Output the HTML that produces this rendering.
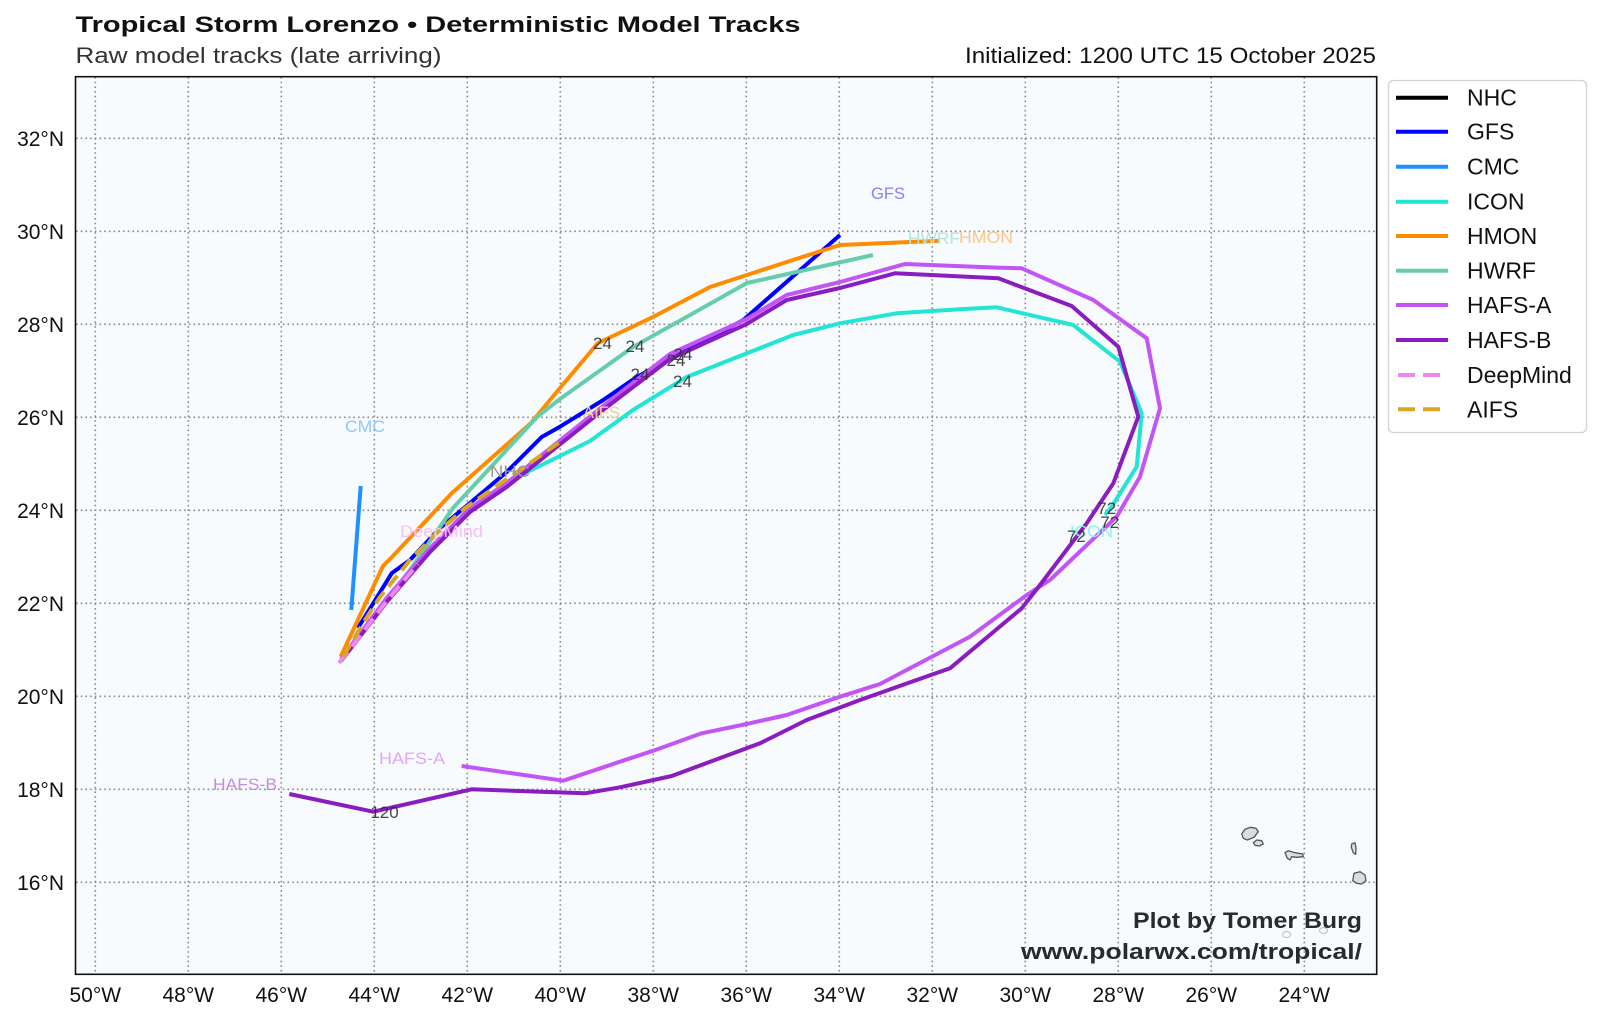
<!DOCTYPE html>
<html>
<head>
<meta charset="utf-8">
<style>
  html, body { margin: 0; padding: 0; background: #ffffff; }
  svg { display: block; }
  text { font-family: "Liberation Sans", "DejaVu Sans", sans-serif; }
</style>
</head>
<body>
<svg width="1600" height="1017" viewBox="0 0 1600 1017" xmlns="http://www.w3.org/2000/svg">
  <rect x="0" y="0" width="1600" height="1017" fill="#ffffff"/>

  <!-- Titles -->
  <text x="75.5" y="32" font-size="22" font-weight="bold" fill="#111" textLength="725" lengthAdjust="spacingAndGlyphs">Tropical Storm Lorenzo • Deterministic Model Tracks</text>
  <text x="75.5" y="63" font-size="22" fill="#333" textLength="366" lengthAdjust="spacingAndGlyphs">Raw model tracks (late arriving)</text>
  <text x="1376" y="63" font-size="22" fill="#111" text-anchor="end" textLength="411" lengthAdjust="spacingAndGlyphs">Initialized: 1200 UTC 15 October 2025</text>

  <!-- Plot background -->
  <rect x="75.5" y="76.7" width="1301.2" height="897.6" fill="#f7fbfe"/>

  <!-- Grid -->
  <g stroke="#8a8a8a" stroke-width="1.6" stroke-dasharray="1.6 3.1" fill="none">
    <line x1="95.3" y1="77" x2="95.3" y2="974"/>
    <line x1="188.3" y1="77" x2="188.3" y2="974"/>
    <line x1="281.3" y1="77" x2="281.3" y2="974"/>
    <line x1="374.3" y1="77" x2="374.3" y2="974"/>
    <line x1="467.3" y1="77" x2="467.3" y2="974"/>
    <line x1="560.3" y1="77" x2="560.3" y2="974"/>
    <line x1="653.3" y1="77" x2="653.3" y2="974"/>
    <line x1="746.3" y1="77" x2="746.3" y2="974"/>
    <line x1="839.3" y1="77" x2="839.3" y2="974"/>
    <line x1="932.3" y1="77" x2="932.3" y2="974"/>
    <line x1="1025.3" y1="77" x2="1025.3" y2="974"/>
    <line x1="1118.3" y1="77" x2="1118.3" y2="974"/>
    <line x1="1211.3" y1="77" x2="1211.3" y2="974"/>
    <line x1="1304.3" y1="77" x2="1304.3" y2="974"/>
    <line x1="76" y1="138.3" x2="1376" y2="138.3"/>
    <line x1="76" y1="231.3" x2="1376" y2="231.3"/>
    <line x1="76" y1="324.3" x2="1376" y2="324.3"/>
    <line x1="76" y1="417.3" x2="1376" y2="417.3"/>
    <line x1="76" y1="510.3" x2="1376" y2="510.3"/>
    <line x1="76" y1="603.3" x2="1376" y2="603.3"/>
    <line x1="76" y1="696.3" x2="1376" y2="696.3"/>
    <line x1="76" y1="789.3" x2="1376" y2="789.3"/>
    <line x1="76" y1="882.3" x2="1376" y2="882.3"/>
  </g>

  <!-- Islands (Cape Verde) -->
  <g fill="#dcdcdc" stroke="#555" stroke-width="1.3" stroke-linejoin="round">
    <polygon points="1241.7,834 1245,829.3 1250.7,827.3 1256,828.3 1258.3,831.7 1254,837.3 1247.3,840 1243.3,838.3"/>
    <polygon points="1253.3,842.7 1256.7,840 1261.7,840.7 1263.3,844 1259.3,846 1255,845.3"/>
    <polygon points="1285,852.7 1288.3,850.7 1295,852.7 1302.7,854 1303.3,856.7 1296.7,857.3 1291.7,856.7 1290,860 1287.3,858.3"/>
    <polygon points="1351.7,844 1355,842.7 1356,848.3 1355.7,854.3 1353.3,852.7 1351.3,847.3"/>
    <polygon points="1354,873.3 1360,871.7 1365,875 1366,880.7 1361.7,884 1356.7,883.3 1352.7,880.7"/>
  </g>
  <g fill="none" stroke="#bbb" stroke-width="1">
    <ellipse cx="1286.5" cy="934.5" rx="4" ry="3"/>
    <ellipse cx="1323.5" cy="930.5" rx="4" ry="3"/>
  </g>

  <!-- Tracks -->
  <g fill="none" stroke-linejoin="round" stroke-linecap="butt">
    <!-- NHC -->
    <polyline stroke="#000000" stroke-width="3" points="341,660 386,601 430,551 470,511 506,486"/>
    <!-- GFS -->
    <polyline stroke="#0000ff" stroke-width="4" points="358,628 391.7,573.3 410,560 440,528 470,503 506.7,472 541.7,437 560,426.7 603.3,400 636.7,377 743.3,320 840,235"/>
    <!-- CMC -->
    <polyline stroke="#1e90ff" stroke-width="4" points="360.7,486 351.3,610"/>
    <!-- ICON -->
    <polyline stroke="#22e5d6" stroke-width="4" points="342,658 375,615 410,573 466.7,513 506.7,482 560,456 590,441 633,410 686.7,377 793.3,335 840,323.3 896.7,313.3 960,309.3 996.7,307.3 1073.3,325 1120,361.7 1141.7,413.3 1136.7,466.7 1111.7,506.7 1105,515"/>
    <!-- HMON -->
    <polyline stroke="#ff8c00" stroke-width="4" points="340.7,656.7 383,566 392,557 452,493 531,423 560,388 598,343 653,317 710,287 747,275 793,260 840,245 940,240.7"/>
    <!-- HWRF -->
    <polyline stroke="#66cdaa" stroke-width="4" points="343,658 380,610 410,570 453,508 490,468 537,417 560,399 633,347 747,283 873,255"/>
    <!-- HAFS-A -->
    <polyline stroke="#c355f5" stroke-width="4" points="341,659 386.7,598 430,548 470,508 506.7,483 553,446 603,406 670,354 746.7,319 786.7,295 840,282 905,264 1000,267.7 1021.7,268.3 1093.3,300 1146.7,338.3 1160,408.3 1140,476.7 1116.7,516.7 1050,580 1026.7,595 970,636.7 933.3,656 880,684 840,696.7 786.7,715 746.7,724 701.7,733.3 653.3,750.7 620,761.7 563.3,780.7 461.7,766"/>
    <!-- HAFS-B -->
    <polyline stroke="#8b1cbf" stroke-width="4" points="341,661 386.7,602 430,552 470,512 506.7,487 553,450 603,410 670,359 746.7,324 786.7,300 840,288 895,273.3 998.3,278.3 1071.7,306 1118.3,346.7 1138.3,416.7 1113.3,483.3 1086.7,523.3 1040,585 1021.7,608.3 950,668.3 860,700 806.7,720 760,743.3 671.7,776 620,787.3 585,793.3 471.7,789.3 373.3,811.7 289.3,794"/>
    <!-- DeepMind -->
    <polyline stroke="#ee88ee" stroke-width="4" stroke-dasharray="14 7" points="339,663 360,636 386,602 418,564"/>
    <!-- AIFS -->
    <polyline stroke="#daa520" stroke-width="4" stroke-dasharray="14 7" points="343,657 365,620 380,597 410,560 437,533 465,508 520,470 560,442"/>
  </g>

  <!-- Model name labels -->
  <g font-size="17">
    <text x="888" y="199" fill="#8080ff" text-anchor="middle" textLength="34" lengthAdjust="spacingAndGlyphs">GFS</text>
    <text x="365" y="432" fill="#8fc7ff" text-anchor="middle" textLength="40" lengthAdjust="spacingAndGlyphs">CMC</text>
    <text x="908" y="244" fill="#b2e6d4" textLength="52" lengthAdjust="spacingAndGlyphs">HWRF</text>
    <text x="959" y="243" fill="#ffc58a" textLength="54" lengthAdjust="spacingAndGlyphs">HMON</text>
    <text x="490" y="477" fill="#999999" textLength="40" lengthAdjust="spacingAndGlyphs">NHC</text>
    <text x="400" y="537" fill="#f7c0f7" textLength="83" lengthAdjust="spacingAndGlyphs">DeepMind</text>
    <text x="583" y="418" fill="#ecd290" textLength="37" lengthAdjust="spacingAndGlyphs">AIFS</text>
    <text x="1070" y="537" fill="#8ff2ea" textLength="43" lengthAdjust="spacingAndGlyphs">ICON</text>
    <text x="379" y="764" fill="#e0a8fa" textLength="66" lengthAdjust="spacingAndGlyphs">HAFS-A</text>
    <text x="213" y="790" fill="#c58ddf" textLength="64" lengthAdjust="spacingAndGlyphs">HAFS-B</text>
  </g>

  <!-- Forecast hour labels -->
  <g font-size="17" fill="#333" text-anchor="middle" opacity="0.9">
    <text x="602.5" y="349">24</text>
    <text x="635" y="352">24</text>
    <text x="683" y="360">24</text>
    <text x="676" y="366">24</text>
    <text x="640" y="380">24</text>
    <text x="682.5" y="387">24</text>
    <text x="1106.7" y="514">72</text>
    <text x="1109.7" y="528">72</text>
    <text x="1076.3" y="542">72</text>
    <text x="384.5" y="818">120</text>
  </g>

  <!-- Watermark -->
  <text x="1362" y="928" font-size="22" font-weight="bold" fill="#2a2a2a" text-anchor="end" textLength="229" lengthAdjust="spacingAndGlyphs">Plot by Tomer Burg</text>
  <text x="1362" y="959" font-size="22" font-weight="bold" fill="#2a2a2a" text-anchor="end" textLength="341" lengthAdjust="spacingAndGlyphs">www.polarwx.com/tropical/</text>

  <!-- Plot border -->
  <rect x="75.5" y="76.7" width="1301.2" height="897.6" fill="none" stroke="#111" stroke-width="1.6"/>

  <!-- Y tick labels -->
  <g font-size="21" fill="#111" text-anchor="end">
    <text x="64" y="145.8">32°N</text>
    <text x="64" y="238.8">30°N</text>
    <text x="64" y="331.8">28°N</text>
    <text x="64" y="424.8">26°N</text>
    <text x="64" y="517.8">24°N</text>
    <text x="64" y="610.8">22°N</text>
    <text x="64" y="703.8">20°N</text>
    <text x="64" y="796.8">18°N</text>
    <text x="64" y="889.8">16°N</text>
  </g>

  <!-- X tick labels -->
  <g font-size="21" fill="#111" text-anchor="middle">
    <text x="95.3" y="1002">50°W</text>
    <text x="188.3" y="1002">48°W</text>
    <text x="281.3" y="1002">46°W</text>
    <text x="374.3" y="1002">44°W</text>
    <text x="467.3" y="1002">42°W</text>
    <text x="560.3" y="1002">40°W</text>
    <text x="653.3" y="1002">38°W</text>
    <text x="746.3" y="1002">36°W</text>
    <text x="839.3" y="1002">34°W</text>
    <text x="932.3" y="1002">32°W</text>
    <text x="1025.3" y="1002">30°W</text>
    <text x="1118.3" y="1002">28°W</text>
    <text x="1211.3" y="1002">26°W</text>
    <text x="1304.3" y="1002">24°W</text>
  </g>

  <!-- Legend -->
  <rect x="1388.5" y="80.5" width="198" height="352" rx="5" ry="5" fill="#ffffff" stroke="#d2d2d2" stroke-width="1.3"/>
  <g stroke-width="4" fill="none">
    <line x1="1396" y1="97.7" x2="1448" y2="97.7" stroke="#000000"/>
    <line x1="1396" y1="131.7" x2="1448" y2="131.7" stroke="#0000ff"/>
    <line x1="1396" y1="166.7" x2="1448" y2="166.7" stroke="#1e90ff"/>
    <line x1="1396" y1="201.7" x2="1448" y2="201.7" stroke="#22e5d6"/>
    <line x1="1396" y1="236" x2="1448" y2="236" stroke="#ff8c00"/>
    <line x1="1396" y1="270.7" x2="1448" y2="270.7" stroke="#66cdaa"/>
    <line x1="1396" y1="305" x2="1448" y2="305" stroke="#c355f5"/>
    <line x1="1396" y1="340" x2="1448" y2="340" stroke="#8b1cbf"/>
    <line x1="1398" y1="375" x2="1441" y2="375" stroke="#ee88ee" stroke-dasharray="17 8"/>
    <line x1="1398" y1="409.3" x2="1441" y2="409.3" stroke="#daa520" stroke-dasharray="17 8"/>
  </g>
  <g font-size="23" fill="#111">
    <text x="1467" y="105.7">NHC</text>
    <text x="1467" y="139.7">GFS</text>
    <text x="1467" y="174.7">CMC</text>
    <text x="1467" y="209.7">ICON</text>
    <text x="1467" y="244">HMON</text>
    <text x="1467" y="278.7">HWRF</text>
    <text x="1467" y="313">HAFS-A</text>
    <text x="1467" y="348">HAFS-B</text>
    <text x="1467" y="383">DeepMind</text>
    <text x="1467" y="417.3">AIFS</text>
  </g>
</svg>
</body>
</html>
